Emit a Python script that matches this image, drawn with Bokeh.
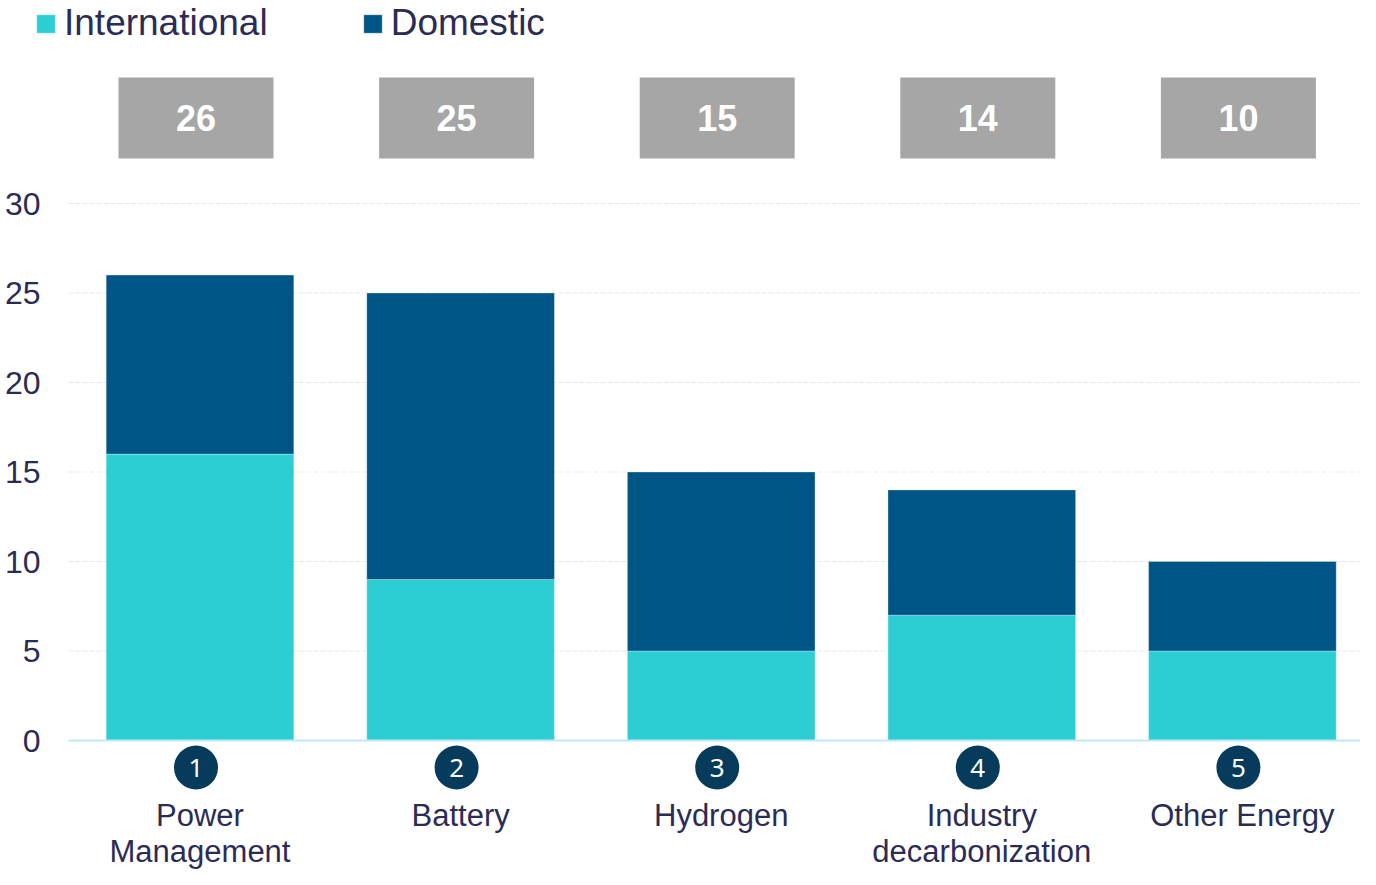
from bokeh.plotting import figure
from bokeh.models import ColumnDataSource, Range1d, Legend, LegendItem
from bokeh.transform import dodge
from bokeh.core.properties import value
from bokeh.embed import file_html
from bokeh.resources import INLINE

# ---- data ----
categories = ["Power Management", "Battery", "Hydrogen", "Industry decarbonization", "Other Energy"]
category_labels = ["Power\nManagement", "Battery", "Hydrogen", "Industry\ndecarbonization", "Other Energy"]
ranks = ["1", "2", "3", "4", "5"]
international = [16, 9, 5, 7, 5]
domestic = [10, 16, 10, 7, 5]
totals = [26, 25, 15, 14, 10]
y_ticks = [0, 5, 10, 15, 20, 25, 30]

# ---- styling / layout constants ----
TEXT = "#2b2c55"
CYAN = "#2ccdd3"
NAVY = "#005587"
GRAY = "#a6a6a6"
DARK = "#063b5c"
FONT = "Liberation Sans"

W, H = 1360, 869
BAND = 260.6        # px per category
X0 = 199.5          # px of first category centre
ZERO = 740          # px of zero line from top
TOP30 = 203         # px of the 30 gridline
PX = (ZERO - TOP30) / 30.0
FRAME_L = 68        # px where grid lines start
LABEL_R = 40        # px right edge of y tick labels
SHIFT = -4 / BAND   # small left shift of boxes / circles

x_start = -X0 / BAND
x_end = (W - X0) / BAND
y_top = ZERO / PX
y_bot = -(H - ZERO) / PX
grid_x0 = (FRAME_L - X0) / BAND
tick_x = (LABEL_R - X0) / BAND

idx = list(range(len(categories)))
src = ColumnDataSource(dict(
    x=idx,
    cat=categories,
    International=international,
    Domestic=domestic,
    total=[str(t) for t in totals],
    label=category_labels,
    rank=ranks,
))
tick_src = ColumnDataSource(dict(
    y=y_ticks,
    text=[str(t) for t in y_ticks],
    x0=[grid_x0] * len(y_ticks),
    x1=[x_end] * len(y_ticks),
    xl=[tick_x] * len(y_ticks),
))

p = figure(x_range=Range1d(x_start, x_end), y_range=Range1d(y_bot, y_top), width=W, height=H,
           output_backend="svg", toolbar_location=None,
           x_axis_location=None, y_axis_location=None,
           min_border_left=0, min_border_right=0, min_border_top=0, min_border_bottom=0)
p.outline_line_color = None
p.background_fill_color = "white"
p.xgrid.visible = False
p.ygrid.visible = False

# grid lines + y tick labels
p.segment(x0="x0", y0="y", x1="x1", y1="y", line_color="#e6e9ef", line_dash="5 2",
          line_width=1, source=tick_src)
p.text(x="xl", y="y", text="text", text_align="right", text_baseline="middle",
       text_font=value(FONT), text_font_size="32px", text_color=TEXT, source=tick_src)

# stacked bars
bars = p.vbar_stack(["International", "Domestic"], x="x", width=0.72, color=[CYAN, NAVY],
                    line_color="white", line_alpha=0.3, line_width=1, source=src)

# zero baseline
p.segment(x0=grid_x0, y0=0, x1=x_end, y1=0, line_color="#bfe7f7", line_width=2)

# total boxes
BOX_Y = (ZERO - 117.5) / PX
p.rect(x=dodge("x", SHIFT), y=BOX_Y, width=155, height=81, width_units="screen",
       height_units="screen", fill_color=GRAY, line_color=None, source=src)
p.text(x=dodge("x", SHIFT), y=BOX_Y, text="total", text_align="center", text_baseline="middle",
       text_font=value(FONT), text_font_style="bold", text_font_size="36px",
       text_color="white", source=src)

# rank circles
CIRC_Y = -27 / PX
p.scatter(x=dodge("x", SHIFT), y=CIRC_Y, size=44, marker="circle", fill_color=DARK,
          line_color=None, source=src)
p.text(x=dodge("x", SHIFT), y=CIRC_Y, text="rank", text_align="center", text_baseline="middle",
       text_font=value("Noto Sans"), text_font_size="26px", text_color="white", source=src)

# category labels
LAB_Y = -57 / PX
p.text(x="x", y=LAB_Y, text="label", text_align="center", text_baseline="top",
       text_font=value(FONT), text_font_size="31px", text_color=TEXT,
       text_line_height=1.04, source=src)

# legend
leg = Legend(items=[LegendItem(label="International", renderers=[bars[0]]),
                    LegendItem(label="Domestic", renderers=[bars[1]])])
leg.orientation = "horizontal"
leg.location = (34, H - 44)
leg.glyph_width = 23
leg.glyph_height = 23
leg.label_standoff = 7
leg.spacing = 93
leg.padding = 0
leg.margin = 0
leg.border_line_alpha = 0
leg.background_fill_alpha = 0
leg.label_text_font = FONT
leg.label_text_font_size = "37px"
leg.label_text_color = TEXT
p.add_layout(leg)

open("out.html", "w").write(file_html(p, INLINE))
